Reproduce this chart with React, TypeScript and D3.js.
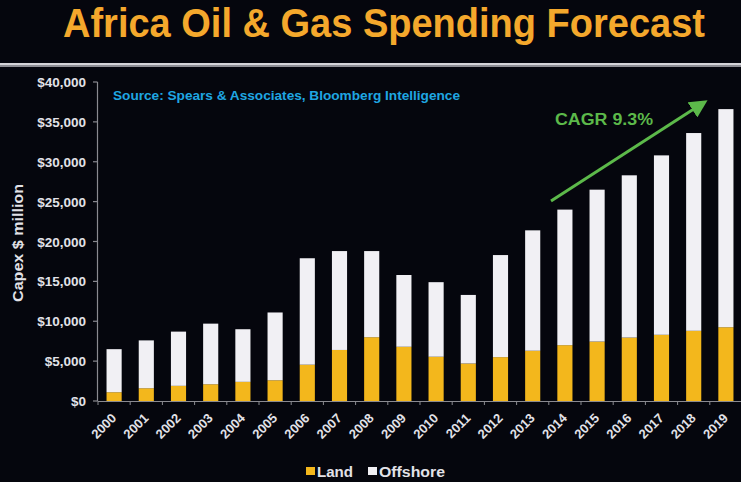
import React from "react";
import * as d3 from "d3";

const years = ["2000","2001","2002","2003","2004","2005","2006","2007","2008","2009","2010","2011","2012","2013","2014","2015","2016","2017","2018","2019"];
const totalValues = [6500,7600,8700,9700,9000,11100,17900,18800,18800,15800,14900,13300,18300,21400,24000,26500,28300,30800,33600,36600];
const landValues = [1100,1600,1900,2100,2400,2600,4550,6400,8000,6800,5550,4700,5500,6300,7000,7450,7950,8300,8800,9250];
const offshoreValues = totalValues.map((t, i) => t - landValues[i]);
const yTicks = [0,5000,10000,15000,20000,25000,30000,35000,40000];
const seriesNames = ["Land", "Offshore"];

const W = 741, H = 482;
const BG = "#05060d";
const LAND = "#f3b71c";
const OFF = "#f1f0f4";
const TXT = "#e2e2e8";
const FONT = "'Liberation Sans', Arial, sans-serif";

export default function App() {
  const x = d3.scaleBand<string>().domain(years).range([98, 742]).paddingInner(0.53).paddingOuter(0.265);
  const y = d3.scaleLinear().domain([0, 40000]).range([401, 82]);
  const fmt = (v: number) => "$" + d3.format(",")(v);
  const bw = x.bandwidth();
  const step = x.step();

  return (
    <svg width={W} height={H} style={{ position: "absolute", left: 0, top: 0, background: BG }} fontFamily={FONT}>
      <rect x={0} y={0} width={W} height={H} fill={BG} />
      <text x={63} y={37} fontSize={40} fontWeight="bold" fill="#f4a82c" textLength={642} lengthAdjust="spacingAndGlyphs">Africa Oil &amp; Gas Spending Forecast</text>
      <rect x={0} y={63} width={W} height={2} fill="#d4d4d8" />
      <rect x={0} y={65} width={W} height={2} fill="#8e8e94" />

      {/* bars */}
      {years.map((yr, i) => (
        <g key={yr}>
          <rect x={x(yr)} y={y(landValues[i])} width={bw} height={y(0) - y(landValues[i])} fill={LAND} />
          <rect x={x(yr)} y={y(landValues[i] + offshoreValues[i])} width={bw} height={y(landValues[i]) - y(landValues[i] + offshoreValues[i])} fill={OFF} />
        </g>
      ))}

      {/* y axis */}
      <line x1={97.5} x2={97.5} y1={y(40000)} y2={y(0)} stroke="#8a8a90" strokeWidth={1.2} />
      {yTicks.map(t => (
        <g key={t}>
          <line x1={93} x2={97.5} y1={y(t)} y2={y(t)} stroke="#8a8a90" strokeWidth={1.2} />
          <text x={86} y={y(t) + 5} textAnchor="end" fontSize={13.5} fontWeight="bold" fill={TXT}>{fmt(t)}</text>
        </g>
      ))}
      <text transform={`translate(23,${243}) rotate(-90)`} textAnchor="middle" fontSize={14} fontWeight="bold" fill={TXT} textLength={118} lengthAdjust="spacingAndGlyphs">Capex $ million</text>

      {/* x axis */}
      <line x1={97.5} x2={741} y1={401.5} y2={401.5} stroke="#8a8a90" strokeWidth={1.2} />
      {years.map((yr) => (
        <line key={"t" + yr} x1={x(yr)! - (step - bw) / 2} x2={x(yr)! - (step - bw) / 2} y1={401.5} y2={405} stroke="#8a8a90" strokeWidth={1} />
      ))}
      {years.map(yr => {
        const cx = x(yr)! + bw / 2 + 3;
        return (
          <text key={"l" + yr} transform={`translate(${cx},${419}) rotate(-45)`} textAnchor="end" fontSize={13} fontWeight="bold" fill={TXT}>{yr}</text>
        );
      })}

      {/* source */}
      <text x={113} y={100} fontSize={12} fontWeight="bold" fill="#1fa6e2" textLength={347} lengthAdjust="spacingAndGlyphs">Source: Spears &amp; Associates, Bloomberg Intelligence</text>

      {/* CAGR arrow */}
      <defs>
        <marker id="ah" markerWidth="6" markerHeight="6" refX="3" refY="3" orient="auto" markerUnits="strokeWidth">
          <path d="M0,0 L6,3 L0,6 Z" fill="#5cb94a" />
        </marker>
      </defs>
      <line x1={551} y1={201} x2={700} y2={105} stroke="#5cb94a" strokeWidth={3} markerEnd="url(#ah)" />
      <text x={555} y={125} fontSize={16} fontWeight="bold" fill="#5cb94a" textLength={98} lengthAdjust="spacingAndGlyphs">CAGR 9.3%</text>

      {/* legend */}
      <rect x={306} y={467} width={9} height={8} fill={LAND} />
      <text x={317} y={477} fontSize={14} fontWeight="bold" fill={TXT} textLength={36} lengthAdjust="spacingAndGlyphs">{seriesNames[0]}</text>
      <rect x={368} y={467} width={9} height={8} fill={OFF} />
      <text x={379} y={477} fontSize={14} fontWeight="bold" fill={TXT} textLength={66} lengthAdjust="spacingAndGlyphs">{seriesNames[1]}</text>
    </svg>
  );
}
